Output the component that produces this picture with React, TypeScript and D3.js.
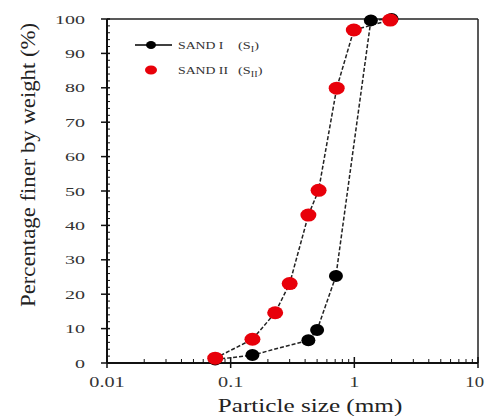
import React from 'react';
import * as d3 from 'd3';

// sieve sizes (mm) and percent finer
const sand1Size = [0.075, 0.15, 0.425, 0.5, 0.71, 1.36, 2.0];
const sand1Pass = [1, 2.3, 6.6, 9.6, 25.3, 99.6, 100];
const sand2Size = [0.075, 0.15, 0.229, 0.3, 0.425, 0.514, 0.72, 0.99, 1.95];
const sand2Pass = [1.4, 6.9, 14.6, 23.1, 43, 50.2, 79.9, 96.8, 99.7];
const yTicks = [0, 10, 20, 30, 40, 50, 60, 70, 80, 90, 100];
const xTicks = [0.01, 0.1, 1, 10];
const xTickLabels = ['0.01', '0.1', '1', '10'];

const W = 485, H = 416;
const m = { left: 107, right: 478, top: 19, bottom: 363 };
const font = 'Liberation Serif, Times New Roman, serif';

// the source picture is stretched sideways, so text is scaled in x
function Txt({ x, y, sx, size, anchor, children, fill }: any) {
  return (
    <text transform={`translate(${x},${y}) scale(${sx},1)`} textAnchor={anchor || 'start'}
      fontFamily={font} fontSize={size} fill={fill || '#333'}>{children}</text>
  );
}

export default function App() {
  const x = d3.scaleLog().domain([0.01, 10]).range([m.left, m.right]);
  const y = d3.scaleLinear().domain([0, 100]).range([m.bottom, m.top]);

  const line = d3.line<[number, number]>().x(d => x(d[0])).y(d => y(d[1]));
  const s1 = sand1Size.map((s, i) => [s, sand1Pass[i]] as [number, number]);
  const s2 = sand2Size.map((s, i) => [s, sand2Pass[i]] as [number, number]);

  // minor ticks on the log axis
  const minorX: number[] = [];
  [0.01, 0.1, 1].forEach(d => { for (let k = 2; k <= 9; k++) minorX.push(d * k); });
  const minorY = d3.range(0, 101, 2).filter(v => v % 10 !== 0);

  return (
    <svg width={W} height={H} style={{ position: 'absolute', left: 0, top: 0, background: '#fff' }}>
      {/* frame */}
      <line x1={m.left} x2={m.right} y1={m.top} y2={m.top} stroke="#222" strokeWidth={1.5} />
      <line x1={m.right} x2={m.right} y1={m.top} y2={m.bottom} stroke="#222" strokeWidth={1.5} />
      <line x1={m.left} x2={m.right} y1={m.bottom} y2={m.bottom} stroke="#111" strokeWidth={2} />
      <line x1={m.left} x2={m.left} y1={m.top} y2={m.bottom} stroke="#111" strokeWidth={2} />

      {/* y axis */}
      {yTicks.map(v => (
        <g key={'y' + v}>
          <line x1={m.left - 6} x2={m.left + 3} y1={y(v)} y2={y(v)} stroke="#111" strokeWidth={1.5} />
          <Txt x={m.left - 22} y={y(v) + 4.5} sx={1.6} size={12.5} anchor="end">{v}</Txt>
        </g>
      ))}
      {minorY.map(v => (
        <line key={'my' + v} x1={m.left} x2={m.left + 3} y1={y(v)} y2={y(v)} stroke="#111" strokeWidth={1} />
      ))}

      {/* x axis */}
      {xTicks.map((v, i) => (
        <g key={'x' + v}>
          <line x1={x(v)} x2={x(v)} y1={m.bottom - 6} y2={m.bottom + 5} stroke="#111" strokeWidth={1.5} />
          {i < xTicks.length - 1
            ? <Txt x={x(v)} y={387} sx={1.35} size={15} anchor="middle">{xTickLabels[i]}</Txt>
            : <Txt x={W - 1} y={387} sx={1.25} size={15} anchor="end">{xTickLabels[i]}</Txt>}
        </g>
      ))}
      {minorX.map(v => (
        <line key={'mx' + v} x1={x(v)} x2={x(v)} y1={m.bottom - 4} y2={m.bottom} stroke="#111" strokeWidth={1} />
      ))}

      <Txt x={310} y={412} sx={1.4} size={18} anchor="middle" fill="#222">Particle size (mm)</Txt>
      <text transform="translate(35,165) scale(1.25,1) rotate(-90)" textAnchor="middle" fontFamily={font}
        fontSize={17} fill="#222" textLength={284} lengthAdjust="spacingAndGlyphs">
        Percentage finer by weight (%)
      </text>

      {/* series lines */}
      <path d={line(s1) || ''} fill="none" stroke="#222" strokeWidth={1.5} strokeDasharray="4,2" />
      <path d={line(s2) || ''} fill="none" stroke="#222" strokeWidth={1.5} strokeDasharray="4,2" />

      {s1.map((d, i) => (
        <ellipse key={'a' + i} cx={x(d[0])} cy={y(d[1])} rx={7} ry={6} fill="#000" />
      ))}
      {s2.map((d, i) => (
        <ellipse key={'b' + i} cx={x(d[0])} cy={y(d[1])} rx={8} ry={6.5} fill="#e8000a" />
      ))}

      {/* legend */}
      <line x1={135} x2={172} y1={45} y2={45} stroke="#000" strokeWidth={1.5} />
      <ellipse cx={151} cy={45} rx={5} ry={4} fill="#000" />
      <Txt x={178} y={49} sx={1.25} size={11}>SAND I</Txt>
      <Txt x={238} y={49} sx={1.3} size={11}>(S<tspan fontSize={8} dy={3}>I</tspan><tspan dy={-3}>)</tspan></Txt>
      <ellipse cx={151} cy={70} rx={6} ry={4.5} fill="#e8000a" />
      <Txt x={178} y={74} sx={1.25} size={11}>SAND II</Txt>
      <Txt x={238} y={74} sx={1.3} size={11}>(S<tspan fontSize={8} dy={3}>II</tspan><tspan dy={-3}>)</tspan></Txt>
    </svg>
  );
}
